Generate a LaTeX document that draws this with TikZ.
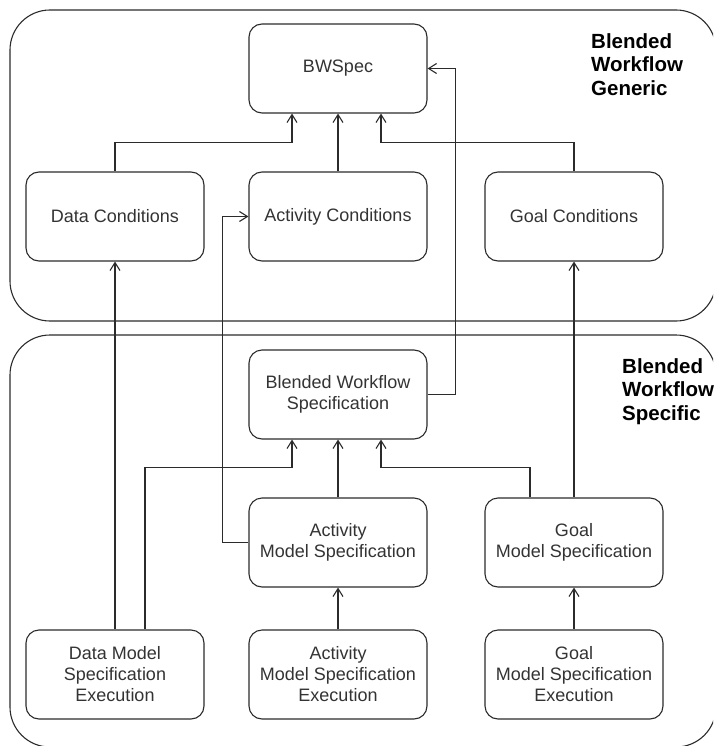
\documentclass[tikz,border=0pt]{standalone}
\usepackage{fontspec}
\setmainfont{Liberation Sans}
\usetikzlibrary{arrows.meta}
\definecolor{ink}{HTML}{2B2B2B}
\definecolor{txt}{HTML}{333333}
\begin{document}
\begin{tikzpicture}[x=1pt,y=-1pt,
  box/.style={draw=ink, line width=1.1pt, rounded corners=13pt,
    minimum width=178pt, minimum height=89pt, inner sep=0pt,
    align=center, text=txt, font=\fontsize{18}{21}\selectfont},
  region/.style={draw=ink, line width=1.1pt, rounded corners=40pt},
  tag/.style={anchor=north west, inner sep=0pt, align=left,
    font=\bfseries\fontsize{20.5}{23.5}\selectfont, text=black},
  link/.style={draw=ink, line width=1.1pt,
    -{Straight Barb[length=8pt,width=10pt]}}
]
\useasboundingbox (0,0) rectangle (713,746);
\clip (0,0) rectangle (713,746);

% the two layers
\draw[region] (10,10) rectangle (716,321);
\draw[region] (10,335) rectangle (716,747);
\node[tag] (generic) at (591,33) {Blended\\Workflow\\Generic};
\node[tag] (specific) at (622,358) {Blended\\Workflow\\Specific};

% generic layer
\node[box] (bwspec) at (338,68.5) {BWSpec};
\node[box] (dataC)  at (115,216.5) {Data Conditions};
\node[box] (actC)   at (338,216.5) {Activity Conditions};
\node[box] (goalC)  at (574,216.5) {Goal Conditions};

% specific layer
\node[box] (bws)  at (338,394.5) {Blended Workflow\\Specification};
\node[box] (ams)  at (338,542.5) {Activity\\Model Specification};
\node[box] (gms)  at (574,542.5) {Goal\\Model Specification};
\node[box] (dmse) at (115,674.5) {Data Model\\Specification\\Execution};
\node[box] (amse) at (338,674.5) {Activity\\Model Specification\\Execution};
\node[box] (gmse) at (574,674.5) {Goal\\Model Specification\\Execution};

% generic connectors
\draw[link] (dataC.north) -- ++(0,-29) -| ([xshift=-46pt]bwspec.south);
\draw[link] (actC.north) -- (bwspec.south);
\draw[link] (goalC.north) -- ++(0,-29) -| ([xshift=43pt]bwspec.south);

% specific connectors
\draw[link] ([xshift=30pt]dmse.north) -- ++(0,-162) -| ([xshift=-46pt]bws.south);
\draw[link] (ams.north) -- (bws.south);
\draw[link] ([xshift=-44pt]gms.north) -- ++(0,-30) -| ([xshift=43pt]bws.south);
\draw[link] (amse.north) -- (ams.south);
\draw[link] (gmse.north) -- (gms.south);

% links across the layers
\draw[link] (bws.east) -- ++(28,0) |- (bwspec.east);
\draw[link] (ams.west) -- ++(-26,0) |- (actC.west);
\draw[link] (dmse.north) -- (dataC.south);
\draw[link] (gms.north) -- (goalC.south);
\end{tikzpicture}
\end{document}
